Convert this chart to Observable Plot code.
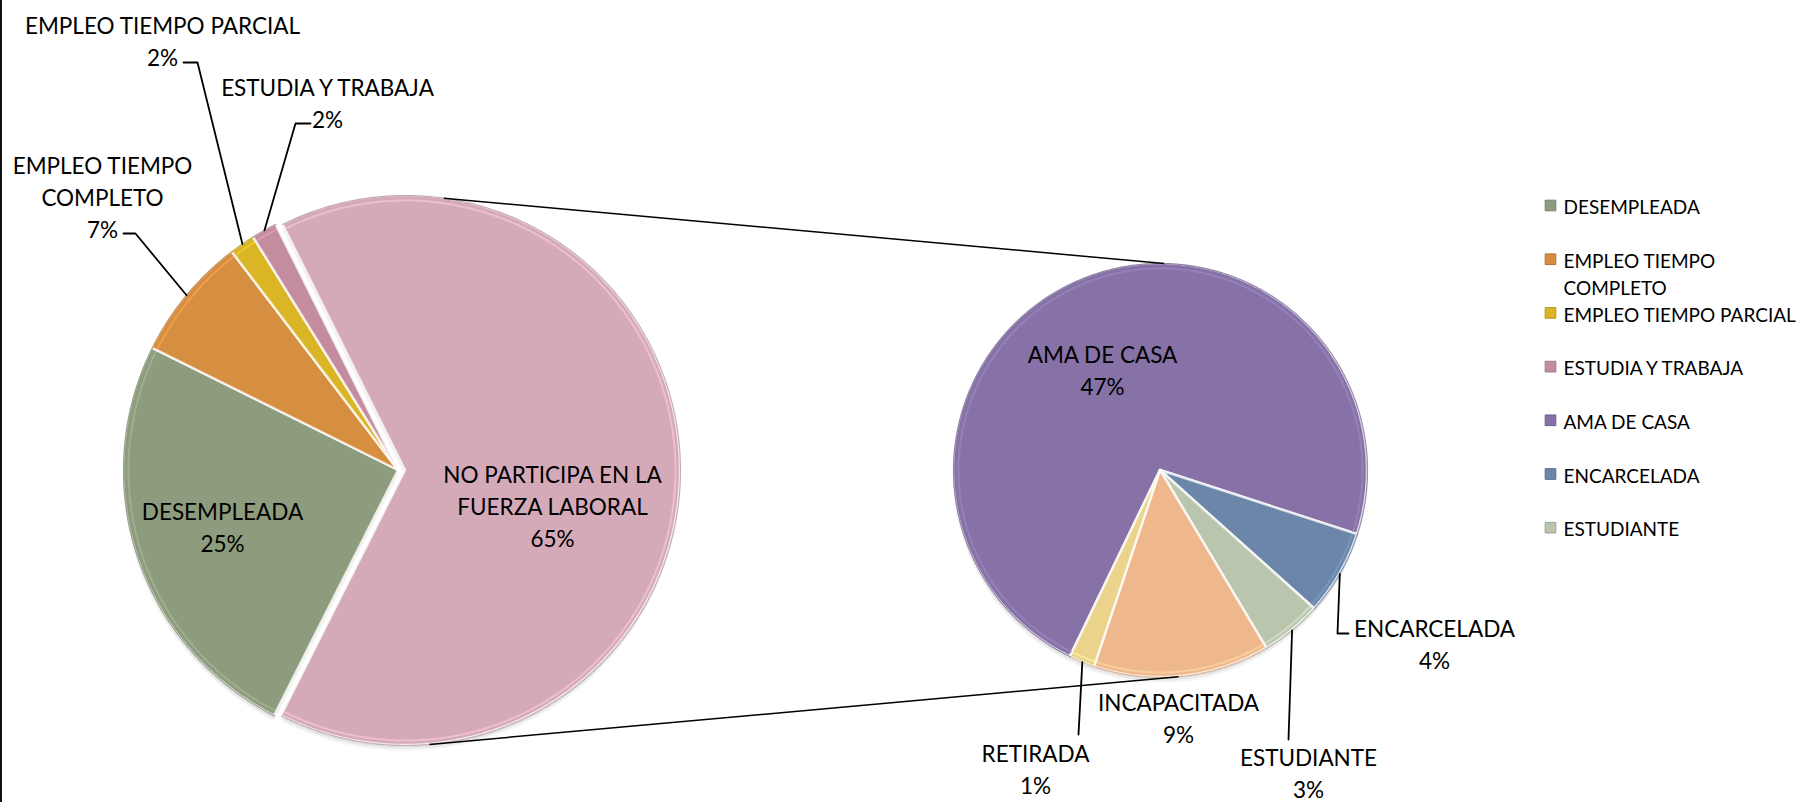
<!DOCTYPE html>
<html><head><meta charset="utf-8">
<script src="https://cdn.jsdelivr.net/npm/d3@7"></script>
<script src="https://cdn.jsdelivr.net/npm/@observablehq/plot@0.6"></script>
<style>
html,body{margin:0;padding:0;background:#fff;}
#wrap{position:relative;width:1804px;height:802px;overflow:hidden;}
#border{position:absolute;left:0;top:0;width:2px;height:802px;background:#111;}
</style></head>
<body><div id="wrap"><div id="chart"></div><div id="border"></div></div>
<script>
// ---------- DATA ----------
const mainCategories = ["DESEMPLEADA", "EMPLEO TIEMPO COMPLETO", "EMPLEO TIEMPO PARCIAL", "ESTUDIA Y TRABAJA", "NO PARTICIPA EN LA FUERZA LABORAL"];
const mainValues = [24.9, 7.3, 1.5, 1.5, 64.8];
const subCategories = ["AMA DE CASA", "ENCARCELADA", "ESTUDIANTE", "INCAPACITADA", "RETIRADA"];
const subValues = [47.2, 4.3, 3.1, 8.9, 1.3];
const legendCategories = ["DESEMPLEADA", "EMPLEO TIEMPO COMPLETO", "EMPLEO TIEMPO PARCIAL", "ESTUDIA Y TRABAJA", "AMA DE CASA", "ENCARCELADA", "ESTUDIANTE"];

// ---------- STYLE / LAYOUT ----------
const W = 1804, H = 802;
const FONT = "Lato, 'Open Sans', sans-serif";
const colors = {
  "DESEMPLEADA": "#8E9C7E",
  "EMPLEO TIEMPO COMPLETO": "#D68E41",
  "EMPLEO TIEMPO PARCIAL": "#DAB526",
  "ESTUDIA Y TRABAJA": "#C48C9F",
  "NO PARTICIPA EN LA FUERZA LABORAL": "#D4AAB9",
  "AMA DE CASA": "#8672A6",
  "ENCARCELADA": "#6B86A8",
  "ESTUDIANTE": "#BAC5AE",
  "INCAPACITADA": "#EEB88C",
  "RETIRADA": "#EBD38C"
};
const mainPie = {cx: 398, cy: 470, r: 275, start: 206.8, explode: {"NO PARTICIPA EN LA FUERZA LABORAL": 7}};
const subPie = {cx: 1160, cy: 470, r: 207, start: 205.8, explode: {}};
const wrapped = {
  "EMPLEO TIEMPO COMPLETO": "EMPLEO TIEMPO\nCOMPLETO",
  "NO PARTICIPA EN LA FUERZA LABORAL": "NO PARTICIPA EN LA\nFUERZA LABORAL"
};
// label block centres and leader elbows
const labelLayout = {
  "DESEMPLEADA": {x: 222, y: 525},
  "EMPLEO TIEMPO COMPLETO": {x: 102, y: 195, leader: [[123, 233], [135, 233]]},
  "EMPLEO TIEMPO PARCIAL": {x: 162, y: 39, leader: [[183, 62], [197, 62]]},
  "ESTUDIA Y TRABAJA": {x: 327, y: 101.5, leader: [[310, 123], [295, 123]]},
  "NO PARTICIPA EN LA FUERZA LABORAL": {x: 552, y: 504},
  "AMA DE CASA": {x: 1102, y: 368},
  "ENCARCELADA": {x: 1434, y: 642, leader: [[1348, 633], [1337, 633]]},
  "ESTUDIANTE": {x: 1308, y: 771, leader: [[1288, 739]]},
  "INCAPACITADA": {x: 1178, y: 716},
  "RETIRADA": {x: 1035, y: 767, leader: [[1078, 734]]}
};
const legendLayout = {markX: 1550, textX: 1563, y0: 205, step: 53.7, lineH: 27, fontSize: 19};
const labelFont = 22.5, labelLineHeight = 1.42;

// ---------- GEOMETRY ----------
const rad = d => d * Math.PI / 180;
const polar = (cx, cy, r, deg) => [cx + r * Math.sin(rad(deg)), cy - r * Math.cos(rad(deg))];

function buildSlices(cats, vals, pie) {
  const total = d3.sum(vals);
  let a = pie.start;
  return cats.map((name, i) => {
    const span = vals[i] / total * 360;
    const a0 = a, a1 = a + span; a = a1;
    const mid = (a0 + a1) / 2;
    const ex = pie.explode[name] || 0;
    const cx = pie.cx + ex * Math.sin(rad(mid)), cy = pie.cy - ex * Math.cos(rad(mid));
    const pts = [];
    const n = Math.max(2, Math.ceil(span / 0.5));
    for (let k = 0; k <= n; k++) {
      const [x, y] = polar(cx, cy, pie.r, a0 + (a1 - a0) * k / n);
      pts.push({name, x, y, cx, cy});
    }
    return {name, value: vals[i], a0, a1, mid, cx, cy, r: pie.r, pts};
  });
}
const mainSlices = buildSlices(mainCategories, mainValues, mainPie);
const subSlices = buildSlices(subCategories, subValues, subPie);
const allSlices = [...mainSlices, ...subSlices];

// labels
const labels = allSlices.map(s => ({
  name: s.name,
  x: labelLayout[s.name].x,
  y: labelLayout[s.name].y,
  text: (wrapped[s.name] || s.name) + "\n" + Math.round(s.value) + "%"
}));
// leader lines: slice edge at mid angle -> elbows
const leaders = allSlices.filter(s => labelLayout[s.name].leader).map(s => {
  const edge = polar(s.cx, s.cy, s.r, s.mid);
  const pts = [edge, ...labelLayout[s.name].leader.slice().reverse()];
  return pts.map(([x, y]) => ({name: s.name, x, y}));
});
// series lines connecting the "other" slice with secondary pie
const other = mainSlices[mainSlices.length - 1];
const seriesLines = [
  {p1: polar(other.cx, other.cy, other.r, 8), p2: polar(subPie.cx, subPie.cy, subPie.r, 1)},
  {p1: polar(other.cx, other.cy, other.r, 175), p2: polar(subPie.cx, subPie.cy, subPie.r, 175)}
].map(d => ({x1: d.p1[0], y1: d.p1[1], x2: d.p2[0], y2: d.p2[1]}));

// legend
const legend = legendCategories.map((name, i) => {
  const text = wrapped[name] || name;
  const nLines = text.split("\n").length;
  const yFirst = legendLayout.y0 + i * legendLayout.step;
  return {name, text, color: colors[name], yMark: yFirst, yText: yFirst + (nLines - 1) / 2 * legendLayout.lineH};
});

// ---------- PLOT ----------
// soft shadow: a few offset translucent copies of each pie outline
const shadowMarks = [];
for (const s of allSlices) {
  for (const [off, op] of [[2, 0.07], [4, 0.05], [6, 0.03]]) {
    shadowMarks.push(Plot.area(s.pts, {x1: "x", y1: d => d.y + off, x2: "cx", y2: d => d.cy + off, fill: "#000", fillOpacity: op}));
  }
}
const sliceMarks = allSlices.map(s => Plot.area(s.pts, {
  x1: "x", y1: "y", x2: "cx", y2: "cy", curve: "linear",
  fill: colors[s.name], fillOpacity: 1,
  stroke: "#ffffff", strokeOpacity: 0.75, strokeWidth: 2.5, strokeLinejoin: "round"
}));
const rimMarks = allSlices.map(s => Plot.line(s.pts, {
  x: "x", y: "y", curve: "linear", stroke: d3.color(colors[s.name]).darker(0.5).formatHex(),
  strokeWidth: 1.2, strokeOpacity: 0.7
}));
const innerRim = allSlices.map(s => Plot.line(s.pts.map(p => {
  const k = (s.r - 5) / s.r;
  return {x: s.cx + (p.x - s.cx) * k, y: s.cy + (p.y - s.cy) * k};
}).slice(1, -1), {
  x: "x", y: "y", curve: "linear", stroke: d3.color(colors[s.name]).brighter(0.5).formatHex(),
  strokeWidth: 2, strokeOpacity: 0.6
}));

const chart = Plot.plot({
  width: W, height: H,
  margin: 0,
  x: {domain: [0, W], range: [0, W], axis: null},
  y: {domain: [0, H], range: [0, H], axis: null},
  style: {background: "#fff", fontFamily: FONT},
  marks: [
    ...shadowMarks,
    ...sliceMarks,
    ...innerRim,
    ...rimMarks,
    Plot.link(seriesLines, {x1: "x1", y1: "y1", x2: "x2", y2: "y2", stroke: "#000", strokeWidth: 1.5}),
    ...leaders.map(l => Plot.line(l, {x: "x", y: "y", stroke: "#000", strokeWidth: 1.8, curve: "linear"})),
    Plot.text(labels, {x: "x", y: "y", text: "text", fontSize: labelFont, lineHeight: labelLineHeight, fill: "#000", fontFamily: FONT}),
    Plot.dot(legend, {x: legendLayout.markX, y: "yMark", symbol: "square", r: 6, fill: "color", stroke: d => d3.color(d.color).darker(0.5).formatHex(), strokeWidth: 1}),
    Plot.text(legend, {x: legendLayout.textX, y: "yText", text: "text", textAnchor: "start", fontSize: legendLayout.fontSize, lineHeight: legendLayout.lineH / legendLayout.fontSize, fill: "#000", fontFamily: FONT})
  ],
  color: {type: "identity"}
});
document.getElementById("chart").appendChild(chart);
</script>
</body></html>
